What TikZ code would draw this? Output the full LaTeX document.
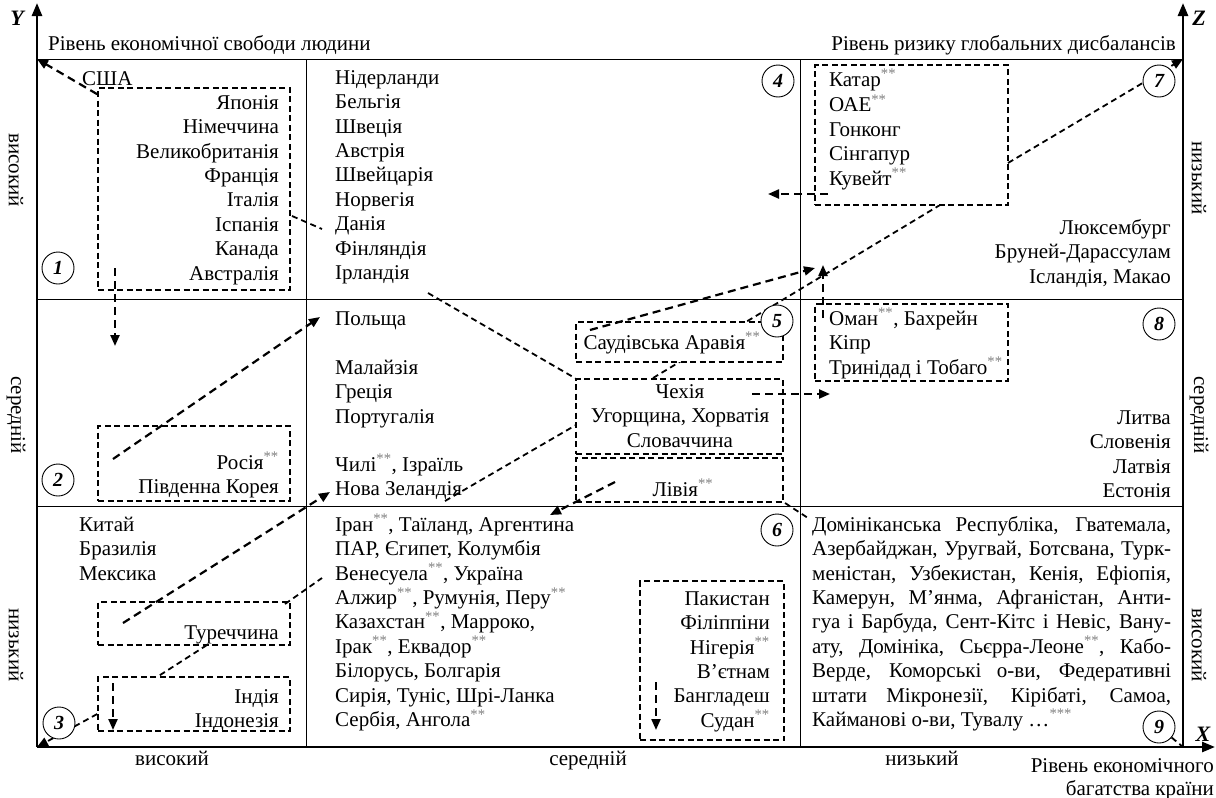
\documentclass[tikz,border=0pt]{standalone}
\usepackage{fontspec}
\setmainfont{Liberation Serif}
\usetikzlibrary{arrows.meta,calc}
\newcommand{\zvz}{\textsuperscript{\textcolor{gray}{**}}}
\newcommand{\zvzz}{\textsuperscript{\textcolor{gray}{***}}}
\begin{document}
\begin{tikzpicture}[x=1pt,y=-1pt,
  txt/.style={font=\fontsize{21}{24.4}\selectfont, inner sep=0pt},
  axlab/.style={font=\fontsize{22}{22}\selectfont\bfseries\itshape, inner sep=0pt},
  axis/.style={line width=2.6pt, -{Triangle[length=13pt,width=10pt]}},
  grid/.style={line width=1pt},
  dbox/.style={draw, dash pattern=on 6pt off 3.5pt, line width=1.6pt, fill=white, inner sep=0pt},
  conn/.style={line width=2.2pt, dash pattern=on 8pt off 5pt},
  thin/.style={line width=1.8pt, dash pattern=on 6pt off 4pt},
  tip/.style={-{Triangle[length=11pt,width=9pt]}},
  num/.style={circle, draw, line width=0.9pt, minimum size=32pt, inner sep=0pt, fill=white, font=\fontsize{20}{20}\selectfont\bfseries\itshape}]
\useasboundingbox (0,0) rectangle (1216,798);

% frame coordinates
\coordinate (TL) at (37,59);
\coordinate (TR) at (1183,59);
\coordinate (BL) at (37,747);
\coordinate (BR) at (1183,747);
\coordinate (Ytip) at (37,3);
\coordinate (Ztip) at (1183,3);
\coordinate (Xtip) at (1215,747);
\coordinate (c1t) at (306,59);
\coordinate (c1b) at (306,747);
\coordinate (c2t) at (800,59);
\coordinate (c2b) at (800,747);
\coordinate (r1l) at (37,299);
\coordinate (r1r) at (1183,299);
\coordinate (r2l) at (37,506);
\coordinate (r2r) at (1183,506);

% grid
\draw[grid] (TL) -- (TR);
\draw[grid] (c1t) -- (c1b);
\draw[grid] (c2t) -- (c2b);
\draw[grid] (r1l) -- (r1r);
\draw[grid] (r2l) -- (r2r);
\draw[axis] (BL) -- (Ytip);
\draw[axis] (BR) -- (Ztip);
\draw[axis] (BL) -- (Xtip);

% axis labels
\node[axlab] (ylab) at (17,18) {Y};
\node[axlab] (zlab) at (1199,18) {Z};
\node[axlab] (xlab) at (1203,734) {X};
\node[txt, anchor=base west] (ytitle) at (48,50) {Рівень економічної свободи людини};
\node[txt, anchor=base east] (ztitle) at (1176,50) {Рівень ризику глобальних дисбалансів};
\node[txt, anchor=base east] (xtitle1) at (1214,772) {Рівень економічного};
\node[txt, anchor=base east] (xtitle2) at (1214,795) {багатства країни};
\node[txt, anchor=base] (xl1) at (172,765) {високий};
\node[txt, anchor=base] (xl2) at (588,765) {середній};
\node[txt, anchor=base] (xl3) at (922,765) {низький};
\node[txt, rotate=-90] (yl1) at (16,170) {високий};
\node[txt, rotate=-90] (yl2) at (16,415) {середній};
\node[txt, rotate=-90] (yl3) at (16,645) {низький};
\node[txt, rotate=-90] (zl1) at (1199,178) {низький};
\node[txt, rotate=-90] (zl2) at (1199,415) {середній};
\node[txt, rotate=-90] (zl3) at (1199,645) {високий};

% line behind boxes: Czech -> Qatar box
\coordinate (a13s) at (653,378);
\coordinate (a13e) at (940,205);
\draw[thin] (a13s) -- (a13e);

% dashed boxes
\node[dbox, minimum width=192pt, minimum height=202pt] (b1) at (194,189) {};
\node[dbox, minimum width=192pt, minimum height=75pt] (b2) at (194,463.5) {};
\node[dbox, minimum width=192pt, minimum height=43pt] (b3) at (194,623.5) {};
\node[dbox, minimum width=192pt, minimum height=54pt] (b4) at (194,704) {};
\node[dbox, minimum width=193pt, minimum height=140pt] (b7) at (911.5,135) {};
\node[dbox, minimum width=193pt, minimum height=77pt] (b8) at (911.5,342.5) {};
\node[dbox, minimum width=207pt, minimum height=40pt] (b5a) at (679.5,342) {};
\node[dbox, minimum width=207pt, minimum height=75pt] (b5b) at (679.5,416.5) {};
\node[dbox, minimum width=207pt, minimum height=44pt] (b5c) at (679.5,480) {};
\node[dbox, minimum width=144pt, minimum height=159pt] (b6) at (712,660.5) {};

% texts quadrant 1
\node[txt, anchor=base west] (usa) at (82,85) {США};
\node[txt, anchor=north east, align=right] (q1t) at (279,92) {\strut Японія\\Німеччина\\Великобританія\\Франція\\Італія\\Іспанія\\Канада\\Австралія};
% quadrant 4
\node[txt, anchor=north west, align=left] (q4t) at (335,67) {\strut Нідерланди\\Бельгія\\Швеція\\Австрія\\Швейцарія\\Норвегія\\Данія\\Фінляндія\\Ірландія};
% quadrant 7
\node[txt, anchor=north west, align=left] (q7t) at (829,69) {\strut Катар\zvz\\ОАЕ\zvz\\Гонконг\\Сінгапур\\Кувейт\zvz};
\node[txt, anchor=north east, align=right] (q7r) at (1171,217) {\strut Люксембург\\Бруней-Дарассулам\\Ісландія, Макао};
% quadrant 2
\node[txt, anchor=north east, align=right] (q2t) at (279,452) {\strut Росія\zvz\\Південна Корея};
% quadrant 5
\node[txt, anchor=north west] (pol) at (335,308) {\strut Польща};
\node[txt, anchor=north west, align=left] (q5a) at (335,357) {\strut Малайзія\\Греція\\Португалія};
\node[txt, anchor=north west, align=left] (q5b) at (335,454) {\strut Чилі\zvz, Ізраїль\\Нова Зеландія};
\node[txt, anchor=north] (saudi) at (672,332) {\strut Саудівська Аравія\zvz};
\node[txt, anchor=north, align=center] (czech) at (680,381) {\strut Чехія\\Угорщина, Хорватія\\Словаччина};
\node[txt, anchor=north] (libya) at (683,479) {\strut Лівія\zvz};
% quadrant 8
\node[txt, anchor=north west, align=left] (q8t) at (829,308) {\strut Оман\zvz, Бахрейн\\Кіпр\\Тринідад і Тобаго\zvz};
\node[txt, anchor=north east, align=right] (q8r) at (1171,407) {\strut Литва\\Словенія\\Латвія\\Естонія};
% quadrant 3
\node[txt, anchor=north west, align=left] (q3t) at (79,514) {\strut Китай\\Бразилія\\Мексика};
\node[txt, anchor=north east] (turk) at (279,622) {\strut Туреччина};
\node[txt, anchor=north east, align=right] (ind) at (279,686) {\strut Індія\\Індонезія};
% quadrant 6
\node[txt, anchor=north west, align=left] (q6t) at (335,514) {\strut Іран\zvz, Таїланд, Аргентина\\ПАР, Єгипет, Колумбія\\Венесуела\zvz, Україна\\Алжир\zvz, Румунія, Перу\zvz\\Казахстан\zvz, Марроко,\\Ірак\zvz, Еквадор\zvz\\Білорусь, Болгарія\\Сирія, Туніс, Шрі-Ланка\\Сербія, Ангола\zvz};
\node[txt, anchor=north east, align=right] (q6r) at (770,588) {\strut Пакистан\\Філіппіни\\Нігерія\zvz\\В’єтнам\\Бангладеш\\Судан\zvz};
% quadrant 9
\node[txt, anchor=north west, align=left] (q9t) at (812,514) {\strut\makebox[359pt][s]{Домініканська Республіка, Гватемала,}\\
\makebox[359pt][s]{Азербайджан, Уругвай, Ботсвана, Турк-}\\
\makebox[359pt][s]{меністан, Узбекистан, Кенія, Ефіопія,}\\
\makebox[359pt][s]{Камерун, М’янма, Афганістан, Анти-}\\
\makebox[359pt][s]{гуа і Барбуда, Сент-Кітс і Невіс, Вану-}\\
\makebox[359pt][s]{ату, Домініка, Сьєрра-Леоне\zvz, Кабо-}\\
\makebox[359pt][s]{Верде, Коморські о-ви, Федеративні}\\
\makebox[359pt][s]{штати Мікронезії, Кірібаті, Самоа,}\\
Кайманові о-ви, Тувалу …\zvzz};

% connector coordinates
\coordinate (a2s) at (292,216);
\coordinate (a2e) at (322,229);
\coordinate (a3s) at (115,268);
\coordinate (a3e) at (115,346);
\coordinate (a4s) at (113,459);
\coordinate (a4e) at (320,317);
\coordinate (a5s) at (123,623);
\coordinate (a5e) at (330,492);
\coordinate (a6s) at (285,604);
\coordinate (a6e) at (322,578);
\coordinate (a7s) at (207,645);
\coordinate (a7e) at (157,677);
\coordinate (a8s) at (113,683);
\coordinate (a8e) at (113,730);
\coordinate (a10s) at (445,501);
\coordinate (a10e) at (576,425);
\coordinate (a11s) at (428,293);
\coordinate (a12s) at (590,330);
\coordinate (a12e) at (815,268);
\coordinate (a14s) at (823,318);
\coordinate (a14e) at (823,265);
\coordinate (a15s) at (828,194);
\coordinate (a15e) at (768,194);
\coordinate (a16s) at (1008,163);
\coordinate (a17s) at (752,394);
\coordinate (a17e) at (830,394);
\coordinate (a18s) at (615,482);
\coordinate (a18e) at (550,515);
\coordinate (a19s) at (785,503);
\coordinate (a19e) at (808,518);
\coordinate (a20s) at (656,682);
\coordinate (a20e) at (656,730);

% connectors
\draw[conn, tip] ($(b1.north west)+(0,7)$) -- (TL);
\draw[thin] (a2s) -- (a2e);
\draw[conn, tip] (a3s) -- (a3e);
\draw[conn, tip] (a4s) -- (a4e);
\draw[conn, tip] (a5s) -- (a5e);
\draw[thin] (a6s) -- (a6e);
\draw[thin] (a7s) -- (a7e);
\draw[conn, tip] (a8s) -- (a8e);
\draw[thin, tip] ($(b4.west)+(0,10)$) -- (BL);
\draw[thin] (a10s) -- (a10e);
\draw[thin] (a11s) -- (b5b.north west);
\draw[conn, tip] (a12s) -- (a12e);
\draw[conn, tip] (a14s) -- (a14e);
\draw[conn, tip] (a15s) -- (a15e);
\draw[thin, tip] (a16s) -- (TR);
\draw[conn, tip] (a17s) -- (a17e);
\draw[conn, tip] (a18s) -- (a18e);
\draw[thin] (a19s) -- (a19e);
\draw[conn, tip] (a20s) -- (a20e);

% numbered circles
\node[num] (n1) at (58,268) {1};
\node[num] (n2) at (58,480) {2};
\node[num] (n3) at (59,723) {3};
\node[num] (n4) at (778,81) {4};
\node[num] (n5) at (777,321) {5};
\node[num] (n6) at (777,530) {6};
\node[num] (n7) at (1159,81) {7};
\node[num] (n8) at (1159,324) {8};
\node[num] (n9) at (1159,727) {9};
\draw[thin] (n9) -- (BR);
\end{tikzpicture}
\end{document}
